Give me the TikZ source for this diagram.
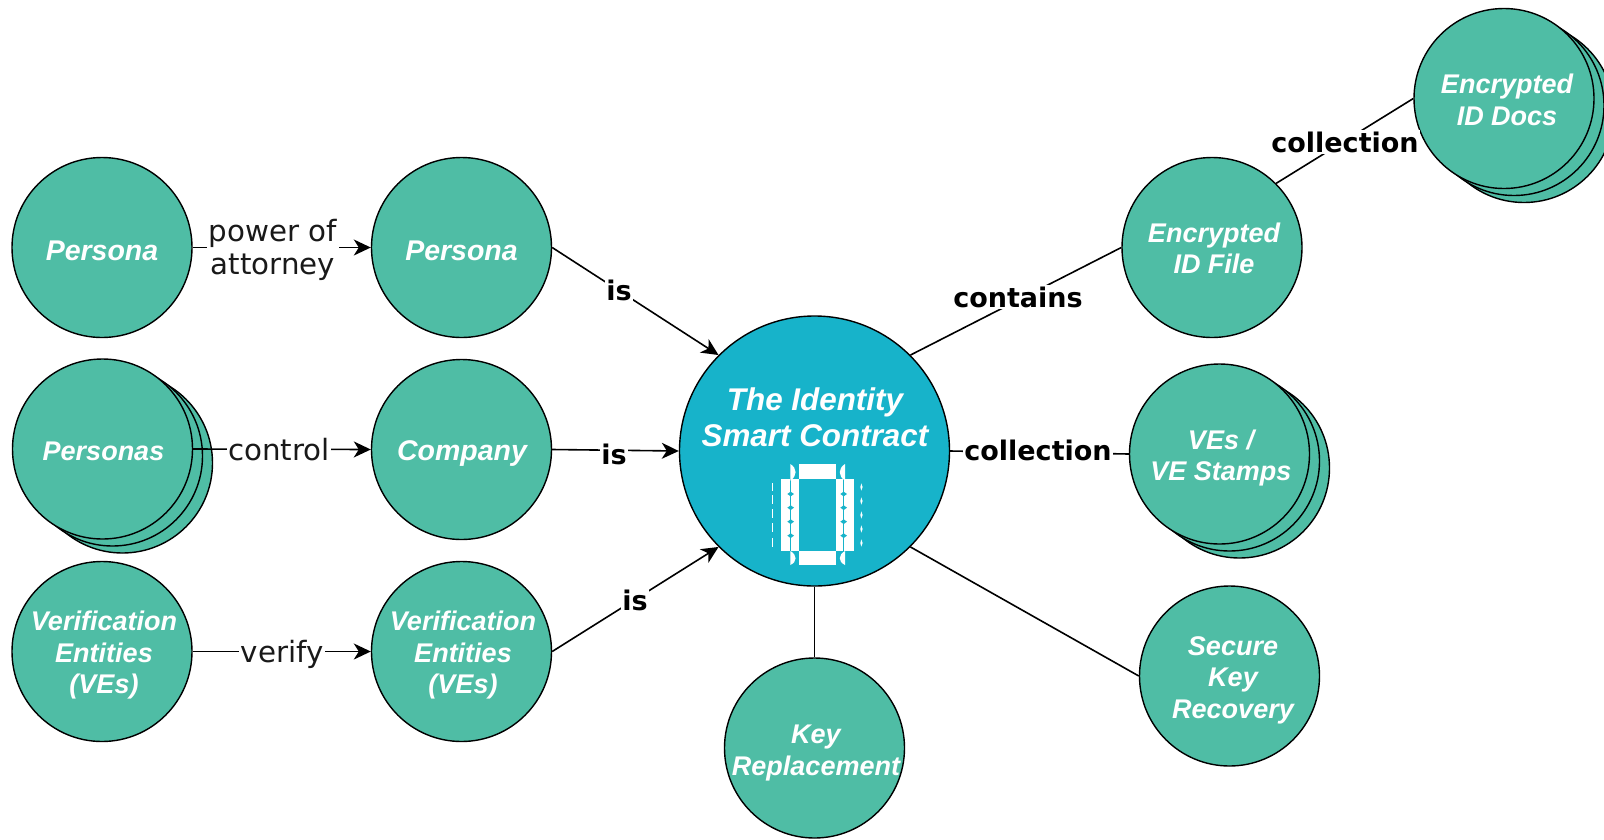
\documentclass[tikz,border=0pt]{standalone}
\usepackage{fontspec}
\setmainfont{Liberation Sans}
\newfontfamily\dejavu{DejaVu Sans}
\usetikzlibrary{arrows.meta}
\definecolor{discgreen}{HTML}{4FBDA5}
\definecolor{hubblue}{HTML}{17B3CA}
\tikzset{
  disc/.style={circle,draw=black,line width=1.4pt,fill=discgreen,minimum size=180pt,inner sep=0pt},
  hub/.style={circle,draw=black,line width=1.4pt,fill=hubblue,minimum size=270pt,inner sep=0pt},
  disctext/.style={text=white,align=center,inner sep=0pt,font=\fontsize{27}{31.5}\selectfont\bfseries\itshape},
  disctextwide/.style={disctext,font=\fontsize{28.5}{31.5}\selectfont\bfseries\itshape},
  hubtext/.style={text=white,align=center,inner sep=0pt,font=\fontsize{31.4}{36}\selectfont\bfseries\itshape},
  link/.style={draw=black,line width=1.6pt},
  arrowlink/.style={link,-{Stealth[length=17pt,width=16pt,inset=5pt]}},
  plainlabel/.style={fill=white,align=center,inner sep=1.5pt,text=black!90,font=\fontsize{29.3}{33}\selectfont\dejavu},
  boldlabel/.style={fill=white,align=center,inner sep=1.5pt,text=black,font=\fontsize{27}{31}\selectfont\dejavu\bfseries},
  icon/.style={fill=white,draw=none},
  iconhole/.style={fill=hubblue,draw=none}
}
\begin{document}
\begin{tikzpicture}[x=1pt,y=-1pt]
\useasboundingbox (0,0) rectangle (1604,839);
\fill[white] (0,0) rectangle (1604,839);

\node[disc] (personaA) at (102,247.5) {};
\node[disc] (personaB) at (461.5,247.5) {};
\node[disc] (personasC) at (122.5,463) {};
\node[disc] (personasB) at (112.5,456) {};
\node[disc] (personas) at (102.5,449) {};
\node[disc] (company) at (461.5,449.5) {};
\node[disc] (veA) at (102,651.5) {};
\node[disc] (veB) at (461.5,651.5) {};
\node[hub] (hub) at (814.5,451) {};
\node[disc] (key) at (814.5,748) {};
\node[disc] (secure) at (1229.5,676) {};
\node[disc] (vesC) at (1239.5,468) {};
\node[disc] (vesB) at (1229.5,461) {};
\node[disc] (ves) at (1219.5,454) {};
\node[disc] (file) at (1212,247.5) {};
\node[disc] (docsC) at (1524,112.5) {};
\node[disc] (docsB) at (1514,105.5) {};
\node[disc] (docs) at (1504,98.5) {};

\draw[arrowlink] (personaA.east) -- (personaB.west);
\draw[arrowlink] (personas.east) -- (company.west);
\draw[arrowlink] (veA.east) -- (veB.west);
\draw[arrowlink] (personaB.east) -- (hub.135);
\draw[arrowlink] (company.east) -- (hub.west);
\draw[arrowlink] (veB.east) -- (hub.225);
\draw[link] (hub.45) -- (file.west);
\draw[link] (hub.east) -- (ves.west);
\draw[link] (hub.315) -- (secure.west);
\draw[link] (hub.south) -- (key.north);
\draw[link] (file.45) -- (docs.west);

\node[disctextwide] (personaAt) at (102,250.5) {Persona};
\node[disctextwide] (personaBt) at (461.5,250.5) {Persona};
\node[disctext] (personast) at (103.5,451) {Personas};
\node[disctextwide] (companyt) at (462,453) {Company};
\node[disctext] (veAt) at (104,655.5) {Verification\\Entities\\(VEs)};
\node[disctext] (veBt) at (463,655.5) {Verification\\Entities\\(VEs)};
\node[disctext] (keyt) at (816,753) {Key\\Replacement};
\node[disctext] (securet) at (1233,680) {Secure\\Key\\Recovery};
\node[disctext] (vest) at (1221,458) {VEs /\\VE Stamps};
\node[disctext] (filet) at (1214,248.5) {Encrypted\\ID File};
\node[disctext] (docst) at (1507,100) {Encrypted\\ID Docs};
\node[hubtext] (hubt) at (815,417) {The Identity\\Smart Contract};

\node[plainlabel] (lblA) at (273,249.5) {power of\\attorney};
\node[plainlabel] (lblB) at (279,450) {control};
\node[plainlabel] (lblC) at (282,654) {verify};
\node[boldlabel] (lblD) at (619,290.5) {is};
\node[boldlabel] (lblE) at (614,454) {is};
\node[boldlabel] (lblF) at (635,600) {is};
\node[boldlabel] (lblG) at (1018,297) {contains};
\node[boldlabel] (lblH) at (1038,450) {collection};
\node[boldlabel] (lblI) at (1345,142) {collection};

% chip icon, in 3x crop coordinates
\begin{scope}[shift={(740,440)},x=0.33333pt,y=-0.33333pt]
  \fill[icon] (178,72) rectangle (288,118);
  \fill[icon] (178,333) rectangle (288,375);
  \fill[icon] (123,118) rectangle (178,333);
  \fill[icon] (288,118) rectangle (342,333);
  \fill[iconhole] (150.5,118) rectangle (153.5,333);
  \fill[iconhole] (309.5,118) rectangle (312.5,333);
  \fill[icon] (151,72) .. controls (172,85) and (172,108) .. (151,122) -- cycle;
  \fill[icon] (315,72) .. controls (294,85) and (294,108) .. (315,122) -- cycle;
  \fill[icon] (151,333) .. controls (172,345) and (172,365) .. (151,375) -- cycle;
  \fill[icon] (315,333) .. controls (294,345) and (294,365) .. (315,375) -- cycle;
  \foreach \yy in {162,203,245,287} {
    \fill[iconhole] (142,\yy) -- (152,\yy-7) -- (162,\yy) -- (152,\yy+7) -- cycle;
    \fill[iconhole] (301,\yy) -- (311,\yy-7) -- (321,\yy) -- (311,\yy+7) -- cycle;
  }
  \foreach \yy in {128,166,208,250,295} {
    \fill[icon] (96.5,\yy) rectangle (99.5,\yy+25);
  }
  \foreach \yy in {130,172,214,256,298} {
    \fill[icon] (364,\yy) .. controls (369,\yy+6) and (369,\yy+16) .. (364,\yy+22) .. controls (360,\yy+14) and (360,\yy+8) .. (364,\yy) -- cycle;
  }
\end{scope}
\end{tikzpicture}
\end{document}
